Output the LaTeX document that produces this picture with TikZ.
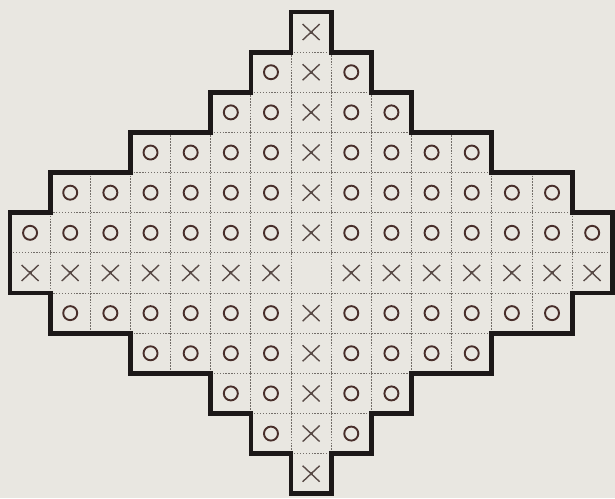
\documentclass[tikz,border=0pt]{standalone}
\definecolor{bg}{RGB}{233,231,225}
\definecolor{ink}{RGB}{28,24,24}
\definecolor{circc}{RGB}{72,46,42}
\definecolor{crossc}{RGB}{88,74,70}
\definecolor{dotc}{RGB}{115,110,105}
\tikzset{
  dotline/.style={dotc, line width=0.9pt, dash pattern=on 0.9pt off 2.0pt},
  circmark/.style={circc, line width=1.9pt},
  crossmark/.style={crossc, line width=1.4pt},
  outline/.style={ink, line width=4.8pt, line join=miter}
}
\begin{document}
\begin{tikzpicture}[x=1pt,y=-1pt]
\fill[bg] (0,0) rectangle (615,498);
\useasboundingbox (0,0) rectangle (615,498);
\begin{scope}[shift={(10,12)}, x=40.15pt, y=-40.15pt]
\foreach \r/\a/\b in {0/7/7,1/6/8,2/5/9,3/3/11,4/1/13,5/0/14,6/0/14,7/1/13,8/3/11,9/5/9,10/6/8,11/7/7}{
  \foreach \c in {\a,...,\b}{
    \draw[dotline] (\c,\r) rectangle ++(1,1);
    \coordinate (m) at (\c+0.5,\r+0.5);
    \pgfmathtruncatemacro\kind{ifthenelse(\c==7, ifthenelse(\r==6,0,1), ifthenelse(\r==6,1,2))}
    \ifcase\kind
    \or
      \draw[crossmark] (m) +(-8.5pt,-8pt) -- +(8.5pt,8pt) (m) +(-8.5pt,8pt) -- +(8.5pt,-8pt);
      \fill[crossc] (m) +(-1.5pt,-1.5pt) rectangle +(1.5pt,1.5pt);
    \or
      \draw[circmark] (m) circle[radius=7pt];
    \fi
  }
}
\draw[outline] (7,0) -- (8,0) -- (8,1) -- (9,1) -- (9,2) -- (10,2) -- (10,3) -- (12,3) -- (12,4) -- (14,4) -- (14,5) -- (15,5) -- (15,7) -- (14,7) -- (14,8) -- (12,8) -- (12,9) -- (10,9) -- (10,10) -- (9,10) -- (9,11) -- (8,11) -- (8,12) -- (7,12) -- (7,11) -- (6,11) -- (6,10) -- (5,10) -- (5,9) -- (3,9) -- (3,8) -- (1,8) -- (1,7) -- (0,7) -- (0,5) -- (1,5) -- (1,4) -- (3,4) -- (3,3) -- (5,3) -- (5,2) -- (6,2) -- (6,1) -- (7,1) -- cycle;
\end{scope}
\end{tikzpicture}
\end{document}
